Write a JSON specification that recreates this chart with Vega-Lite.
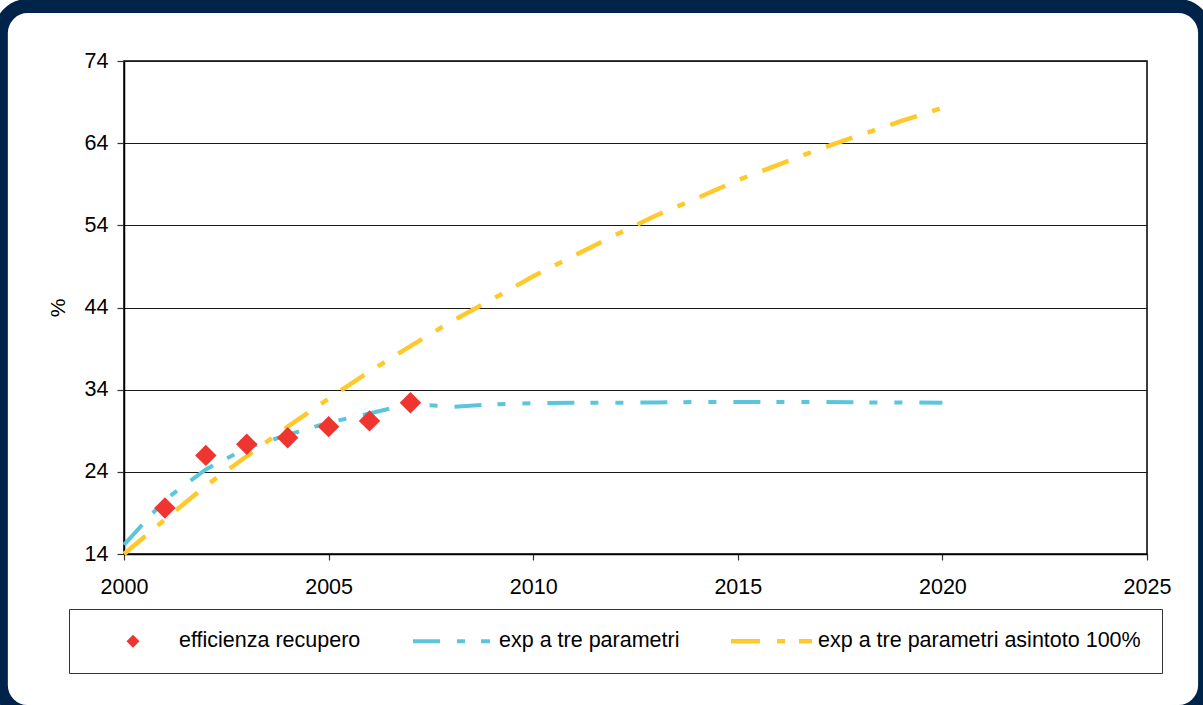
{
  "$schema": "https://vega.github.io/schema/vega-lite/v6.json",
  "width": 1023,
  "height": 493,
  "autosize": {"type": "none"},
  "padding": {"left": 124, "top": 61, "right": 56, "bottom": 151},
  "background": "white",
  "datasets": {
    "recupero": [
      {"anno": 2001, "valore": 19.6, "serie": "efficienza recupero"},
      {"anno": 2002, "valore": 26.0, "serie": "efficienza recupero"},
      {"anno": 2003, "valore": 27.35, "serie": "efficienza recupero"},
      {"anno": 2004, "valore": 28.15, "serie": "efficienza recupero"},
      {"anno": 2005, "valore": 29.5, "serie": "efficienza recupero"},
      {"anno": 2006, "valore": 30.2, "serie": "efficienza recupero"},
      {"anno": 2007, "valore": 32.4, "serie": "efficienza recupero"}
    ],
    "tre": [
      {"anno": 2000, "valore": 15.1, "serie": "exp a tre parametri"},
      {"anno": 2001, "valore": 20.6, "serie": "exp a tre parametri"},
      {"anno": 2002, "valore": 24.3, "serie": "exp a tre parametri"},
      {"anno": 2003, "valore": 26.9, "serie": "exp a tre parametri"},
      {"anno": 2004, "valore": 28.5, "serie": "exp a tre parametri"},
      {"anno": 2005, "valore": 30.0, "serie": "exp a tre parametri"},
      {"anno": 2006, "valore": 31.1, "serie": "exp a tre parametri"},
      {"anno": 2007, "valore": 32.3, "serie": "exp a tre parametri"},
      {"anno": 2008, "valore": 31.9, "serie": "exp a tre parametri"},
      {"anno": 2009, "valore": 32.2, "serie": "exp a tre parametri"},
      {"anno": 2010, "valore": 32.35, "serie": "exp a tre parametri"},
      {"anno": 2011, "valore": 32.4, "serie": "exp a tre parametri"},
      {"anno": 2012, "valore": 32.4, "serie": "exp a tre parametri"},
      {"anno": 2013, "valore": 32.45, "serie": "exp a tre parametri"},
      {"anno": 2014, "valore": 32.5, "serie": "exp a tre parametri"},
      {"anno": 2015, "valore": 32.5, "serie": "exp a tre parametri"},
      {"anno": 2016, "valore": 32.5, "serie": "exp a tre parametri"},
      {"anno": 2017, "valore": 32.5, "serie": "exp a tre parametri"},
      {"anno": 2018, "valore": 32.45, "serie": "exp a tre parametri"},
      {"anno": 2019, "valore": 32.45, "serie": "exp a tre parametri"},
      {"anno": 2020, "valore": 32.4, "serie": "exp a tre parametri"}
    ],
    "asintoto": [
      {"anno": 2000, "valore": 14.0, "serie": "exp a tre parametri asintoto 100%"},
      {"anno": 2001, "valore": 18.2, "serie": "exp a tre parametri asintoto 100%"},
      {"anno": 2002, "valore": 22.3, "serie": "exp a tre parametri asintoto 100%"},
      {"anno": 2003, "valore": 25.9, "serie": "exp a tre parametri asintoto 100%"},
      {"anno": 2004, "valore": 29.5, "serie": "exp a tre parametri asintoto 100%"},
      {"anno": 2005, "valore": 32.9, "serie": "exp a tre parametri asintoto 100%"},
      {"anno": 2006, "valore": 36.2, "serie": "exp a tre parametri asintoto 100%"},
      {"anno": 2007, "valore": 39.3, "serie": "exp a tre parametri asintoto 100%"},
      {"anno": 2008, "valore": 42.3, "serie": "exp a tre parametri asintoto 100%"},
      {"anno": 2009, "valore": 45.0, "serie": "exp a tre parametri asintoto 100%"},
      {"anno": 2010, "valore": 47.8, "serie": "exp a tre parametri asintoto 100%"},
      {"anno": 2011, "valore": 50.3, "serie": "exp a tre parametri asintoto 100%"},
      {"anno": 2012, "valore": 52.8, "serie": "exp a tre parametri asintoto 100%"},
      {"anno": 2013, "valore": 55.2, "serie": "exp a tre parametri asintoto 100%"},
      {"anno": 2014, "valore": 57.3, "serie": "exp a tre parametri asintoto 100%"},
      {"anno": 2015, "valore": 59.5, "serie": "exp a tre parametri asintoto 100%"},
      {"anno": 2016, "valore": 61.4, "serie": "exp a tre parametri asintoto 100%"},
      {"anno": 2017, "valore": 63.3, "serie": "exp a tre parametri asintoto 100%"},
      {"anno": 2018, "valore": 65.0, "serie": "exp a tre parametri asintoto 100%"},
      {"anno": 2019, "valore": 66.7, "serie": "exp a tre parametri asintoto 100%"},
      {"anno": 2020, "valore": 68.3, "serie": "exp a tre parametri asintoto 100%"}
    ],
    "serie": [
      {"serie": "efficienza recupero"},
      {"serie": "exp a tre parametri"},
      {"serie": "exp a tre parametri asintoto 100%"}
    ]
  },
  "config": {
    "font": "Liberation Sans",
    "view": {"stroke": "black", "strokeWidth": 1.5},
    "axis": {
      "labelFont": "Liberation Sans",
      "labelFontSize": 21.5,
      "labelColor": "black",
      "domainColor": "black",
      "domainWidth": 1.5,
      "tickColor": "#333333",
      "tickWidth": 1.2,
      "titleFont": "Liberation Sans",
      "titleFontSize": 21,
      "titleFontWeight": "normal",
      "titleColor": "black"
    },
    "axisX": {"grid": false, "tickSize": 6, "labelPadding": 16, "labelFlush": false},
    "axisY": {"grid": true, "gridColor": "#1a1a1a", "gridWidth": 1.2, "tickSize": 7, "labelPadding": 9, "titlePadding": 16}
  },
  "layer": [
    {
      "data": {"name": "asintoto"},
      "mark": {"type": "line", "color": "#FFC92B", "strokeWidth": 4.5, "strokeDash": [28, 16, 8, 16], "strokeCap": "butt"},
      "encoding": {
        "x": {"field": "anno", "type": "quantitative", "scale": {"domain": [2000, 2025], "nice": false, "zero": false}, "axis": {"title": null, "values": [2000, 2005, 2010, 2015, 2020, 2025], "format": "d"}},
        "y": {"field": "valore", "type": "quantitative", "scale": {"domain": [14, 74], "nice": false, "zero": false}, "axis": {"title": "%", "values": [14, 24, 34, 44, 54, 64, 74]}},
        "detail": {"field": "serie"}
      }
    },
    {
      "data": {"name": "tre"},
      "mark": {"type": "line", "color": "#5BC6DB", "strokeWidth": 4, "strokeDash": [27, 16, 8, 17, 8, 17], "strokeCap": "butt"},
      "encoding": {
        "x": {"field": "anno", "type": "quantitative", "scale": {"domain": [2000, 2025], "nice": false, "zero": false}, "axis": {"title": null, "values": [2000, 2005, 2010, 2015, 2020, 2025], "format": "d"}},
        "y": {"field": "valore", "type": "quantitative", "scale": {"domain": [14, 74], "nice": false, "zero": false}, "axis": {"title": "%", "values": [14, 24, 34, 44, 54, 64, 74]}},
        "detail": {"field": "serie"}
      }
    },
    {
      "data": {"name": "recupero"},
      "mark": {"type": "point", "shape": "diamond", "filled": true, "size": 460, "color": "#EE3530", "opacity": 1},
      "encoding": {
        "x": {"field": "anno", "type": "quantitative", "scale": {"domain": [2000, 2025], "nice": false, "zero": false}, "axis": {"title": null, "values": [2000, 2005, 2010, 2015, 2020, 2025], "format": "d"}},
        "y": {"field": "valore", "type": "quantitative", "scale": {"domain": [14, 74], "nice": false, "zero": false}, "axis": {"title": "%", "values": [14, 24, 34, 44, 54, 64, 74]}},
        "detail": {"field": "serie"}
      }
    },
    {
      "data": {"name": "serie"},
      "mark": {"type": "point", "filled": true, "opacity": 0},
      "encoding": {
        "color": {"field": "serie", "type": "nominal", "scale": {"domain": ["efficienza recupero", "exp a tre parametri", "exp a tre parametri asintoto 100%"], "range": ["#EE3530", "#5BC6DB", "#FFC92B"]},
          "legend": {"orient": "none", "legendX": -55, "legendY": 548, "direction": "horizontal", "columns": 3, "title": null, "symbolSize": 484, "symbolOffset": 32, "symbolOpacity": 1, "symbolStrokeWidth": 0, "labelFont": "Liberation Sans", "labelFontSize": 21.5, "labelColor": "black", "labelLimit": 600, "labelOffset": 35, "columnPadding": 49, "padding": 21, "strokeColor": "#333333", "fillColor": "white"}},
        "shape": {"field": "serie", "type": "nominal", "scale": {"domain": ["efficienza recupero", "exp a tre parametri", "exp a tre parametri asintoto 100%"], "range": ["M-3.909,0M0,-0.591L0.591,0L0,0.591L-0.591,0Z", "M-3.909,0M-3.636,-0.182H-1.182V0.182H-3.636Z M0.364,-0.182H1.091V0.182H0.364Z M2.545,-0.182H3.364V0.182H2.545Z", "M-3.909,0M-3.727,-0.205H-1.091V0.205H-3.727Z M0.455,-0.205H1.182V0.205H0.455Z M2.455,-0.205H3.636V0.205H2.455Z"]},
          "legend": {"orient": "none", "legendX": -55, "legendY": 548, "direction": "horizontal", "columns": 3, "title": null, "symbolSize": 484, "symbolOffset": 32, "symbolOpacity": 1, "symbolStrokeWidth": 0, "labelFont": "Liberation Sans", "labelFontSize": 21.5, "labelColor": "black", "labelLimit": 600, "labelOffset": 35, "columnPadding": 49, "padding": 21, "strokeColor": "#333333", "fillColor": "white"}}
      }
    },
    {
      "data": {"values": [{}]},
      "mark": {"type": "rect", "filled": false, "stroke": "#002349", "strokeWidth": 14, "cornerRadius": 27, "clip": false},
      "encoding": {
        "x": {"datum": 1996.99, "type": "quantitative", "scale": {"domain": [2000, 2025], "nice": false, "zero": false}, "axis": {"title": null, "values": [2000, 2005, 2010, 2015, 2020, 2025], "format": "d"}},
        "x2": {"datum": 2026.42},
        "y": {"datum": 80.69, "type": "quantitative", "scale": {"domain": [14, 74], "nice": false, "zero": false}, "axis": {"title": "%", "values": [14, 24, 34, 44, 54, 64, 74]}},
        "y2": {"datum": -5.23}
      }
    }
  ]
}
